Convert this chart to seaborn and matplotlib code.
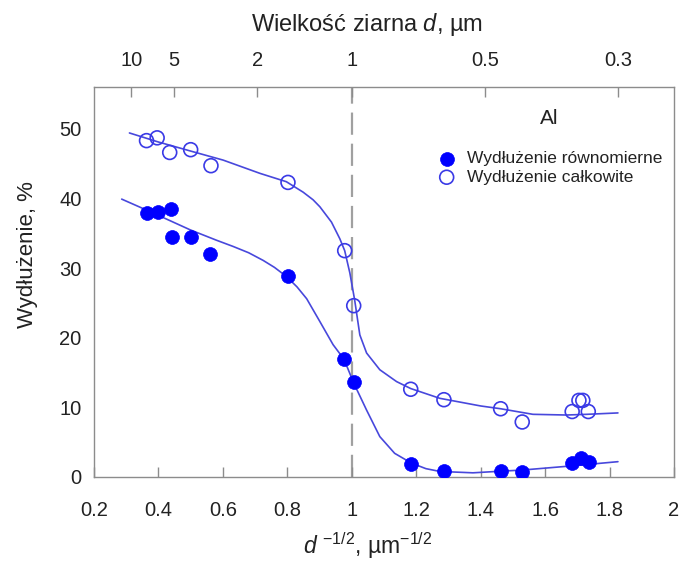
import numpy as np
import pandas as pd
import matplotlib
matplotlib.use("Agg")
import matplotlib.pyplot as plt
import seaborn as sns

# Data (x = d^-1/2, um^-1/2 ; y = elongation %)
uniform_x = [0.366, 0.399, 0.438, 0.443, 0.500, 0.561, 0.802, 0.976, 1.007,
             1.185, 1.286, 1.462, 1.529, 1.684, 1.712, 1.736]
uniform_y = [37.9, 38.1, 38.5, 34.4, 34.4, 32.0, 28.9, 16.9, 13.6,
             1.9, 0.9, 0.9, 0.7, 2.0, 2.7, 2.1]
total_x = [0.363, 0.396, 0.435, 0.500, 0.563, 0.802, 0.978, 1.006,
           1.183, 1.286, 1.462, 1.529, 1.684, 1.705, 1.717, 1.734]
total_y = [48.3, 48.7, 46.6, 47.0, 44.7, 42.3, 32.5, 24.6,
           12.6, 11.1, 9.8, 7.9, 9.4, 11.0, 11.0, 9.4]

# Fitted curves
fit_uni_x = [0.286, 0.384, 0.498, 0.58, 0.632, 0.68, 0.725, 0.76, 0.797, 0.83,
             0.86, 0.90, 0.942, 0.976, 1.006, 1.046, 1.087, 1.133, 1.185, 1.23,
             1.273, 1.376, 1.45, 1.53, 1.684, 1.826]
fit_uni_y = [39.9, 37.9, 35.5, 34.0, 33.1, 32.2, 31.1, 30.1, 28.8, 27.3,
             25.6, 22.4, 19.0, 16.9, 13.5, 9.6, 5.8, 3.4, 2.0, 1.2,
             0.8, 0.6, 0.8, 1.0, 1.6, 2.2]
fit_tot_x = [0.31, 0.4, 0.5, 0.601, 0.715, 0.797, 0.849, 0.88, 0.901, 0.937,
             0.963, 0.978, 0.994, 1.009, 1.025, 1.046, 1.087, 1.139, 1.183,
             1.273, 1.4, 1.462, 1.562, 1.666, 1.73, 1.826]
fit_tot_y = [49.4, 48.1, 46.8, 45.5, 43.6, 42.4, 40.9, 39.8, 38.8, 36.6,
             34.2, 32.5, 29.3, 25.4, 20.4, 17.8, 15.4, 13.7, 12.7,
             11.3, 10.2, 9.8, 9.0, 8.9, 9.0, 9.2]

x_ticks = [0.2, 0.4, 0.6, 0.8, 1.0, 1.2, 1.4, 1.6, 1.8, 2.0]
x_ticklabels = ["0.2", "0.4", "0.6", "0.8", "1", "1.2", "1.4", "1.6", "1.8", "2"]
y_ticks = [0, 10, 20, 30, 40, 50]
top_d = [10, 5, 2, 1, 0.5, 0.3]
top_labels = ["10", "5", "2", "1", "0.5", "0.3"]

sns.set_style("white")
plt.rcParams["font.family"] = ["Liberation Sans", "DejaVu Sans"]
plt.rcParams["mathtext.fontset"] = "custom"
plt.rcParams["mathtext.rm"] = "Liberation Sans"
plt.rcParams["mathtext.it"] = "Liberation Sans:italic"

W, H = 681, 573
fig = plt.figure(figsize=(W / 100, H / 100), dpi=100)
L, R, T, B = 94, 674, 87, 477
ax = fig.add_axes([L / W, 1 - B / H, (R - L) / W, (B - T) / H])

line_col = "#4848dc"
mark_col = "#0000ff"
open_col = "#3a3ae6"
txt_col = "#222222"
grey = "#8c8c8c"

sns.lineplot(x=fit_uni_x, y=fit_uni_y, ax=ax, color=line_col, lw=1.2, sort=False)
sns.lineplot(x=fit_tot_x, y=fit_tot_y, ax=ax, color=line_col, lw=1.2, sort=False)

ax.axvline(1.0, color="#a0a0a0", lw=1.6, ls=(0, (10, 4)), zorder=0)

sns.scatterplot(x=uniform_x, y=uniform_y, ax=ax, color=mark_col, s=100,
                edgecolor=mark_col, linewidth=0.5, zorder=3,
                label="Wydłużenie równomierne")
sns.scatterplot(x=total_x, y=total_y, ax=ax, facecolor="none", s=100,
                edgecolor=open_col, linewidth=1.2, zorder=3,
                label="Wydłużenie całkowite")

ax.set_xlim(0.2, 2.0)
ax.set_ylim(0, 56)
ax.set_xticks(x_ticks)
ax.set_xticklabels(x_ticklabels)
ax.set_yticks(y_ticks)
ax.tick_params(axis="x", direction="in", length=7, width=1, color=grey,
               labelsize=14.5, pad=17, labelcolor=txt_col)
ax.tick_params(axis="y", direction="in", length=7, width=1, color=grey,
               labelsize=14.5, pad=9, labelcolor=txt_col)
for sp in ax.spines.values():
    sp.set_color(grey)
    sp.set_linewidth(1.0)

ax.set_xlabel(r"$\mathit{d}$ $^{-1/2}$, µm$^{-1/2}$", fontsize=16.5, color=txt_col)
ax.xaxis.set_label_coords((368 - L) / (R - L), (B - 530) / (B - T))
ax.xaxis.label.set_va("top")
ax.set_ylabel("Wydłużenie, %", fontsize=16, color=txt_col)
ax.yaxis.set_label_coords((38 - L) / (R - L), (B - 255) / (B - T))

leg = ax.legend(loc="upper left", bbox_to_anchor=((438 - L) / (R - L), (B - 151) / (B - T)),
                frameon=False, fontsize=12.5, handlelength=1.0, handletextpad=0.65,
                borderpad=0.0, borderaxespad=0.0, labelspacing=0.2, markerscale=1.0)
for t in leg.get_texts():
    t.set_color(txt_col)
ax.text((549 - L) / (R - L), (B - 119) / (B - T), "Al", transform=ax.transAxes,
        fontsize=15, color=txt_col, ha="center", va="center")

top = ax.twiny()
top.set_xlim(ax.get_xlim())
top.set_xticks([1 / np.sqrt(d) for d in top_d])
top.set_xticklabels(top_labels)
top.tick_params(axis="x", direction="in", length=7, width=1, color=grey,
                labelsize=14.5, pad=12, labelcolor=txt_col)
for sp in top.spines.values():
    sp.set_visible(False)
fig.text(367 / W, 1 - 24 / H, r"Wielkość ziarna $\mathit{d}$, µm", fontsize=17,
         color=txt_col, ha="center", va="center")

fig.savefig("out.png", dpi=100)
